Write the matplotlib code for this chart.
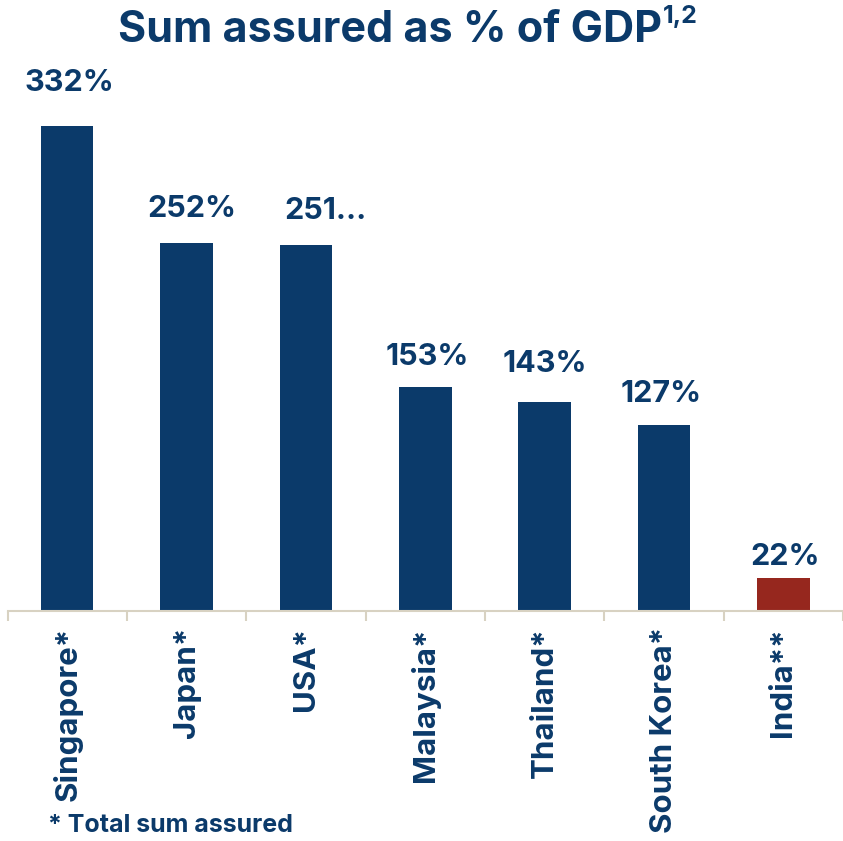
import matplotlib
matplotlib.use('Agg')
import matplotlib.pyplot as plt

countries = ['Singapore*', 'Japan*', 'USA*', 'Malaysia*', 'Thailand*', 'South Korea*', 'India**']
values = [332, 252, 251, 153, 143, 127, 22]
labels = ['332%', '252%', '251...', '153%', '143%', '127%', '22%']

NAVY = '#0b3a6a'
RED = '#96271e'
SPINE = '#d8d2c2'
FONT = 'Inter'

# gap (px) between bar top and label bottom, and sideways nudge
label_gap = [29, 20, 20, 16, 24, 17, 7]
label_dx = [2, 5, 20, 2, 0, -3, 2]


def main():
    fig = plt.figure(figsize=(8.43, 8.41), dpi=100)
    W, H = 843, 841
    ax = fig.add_axes([7.5 / W, (H - 610.5) / H, (W - 7.5) / W, 550.5 / H])

    colors = [RED if c.startswith('India') else NAVY for c in countries]
    x = range(len(countries))
    ax.bar(x, values, width=0.44, color=colors)

    ax.set_xlim(-0.5, len(countries) - 0.5)
    ax.set_ylim(0, 377.6)

    for s in ['top', 'right', 'left']:
        ax.spines[s].set_visible(False)
    ax.spines['bottom'].set_color(SPINE)
    ax.spines['bottom'].set_linewidth(1.5)
    ax.set_yticks([])

    ax.set_xticks([i - 0.5 for i in range(len(countries) + 1)], minor=False)
    ax.set_xticklabels([])
    ax.tick_params(axis='x', which='major', length=7, width=1.5, color=SPINE, direction='out')
    ax.set_xticks(list(x), minor=True)
    ax.set_xticklabels(countries, minor=True, rotation=90, fontsize=22.5,
                       fontweight='bold', color=NAVY, family=FONT)
    ax.tick_params(axis='x', which='minor', length=0, pad=12)

    for i, (v, lab) in enumerate(zip(values, labels)):
        ax.annotate(lab, (i, v), xytext=(label_dx[i] * 0.72, label_gap[i] * 0.72),
                    textcoords='offset points', ha='center', va='bottom',
                    fontsize=22, fontweight='bold', color=NAVY, family=FONT)

    t = fig.text(118 / W, 1 - 41.7 / H, 'Sum assured as % of GDP', ha='left', va='baseline',
                 fontsize=31, fontweight='bold', color=NAVY, family=FONT)
    fig.canvas.draw()
    bb = t.get_window_extent()
    fig.text((bb.x1 + 1) / W, 1 - 23 / H, '1,2', ha='left', va='baseline',
             fontsize=18, fontweight='bold', color=NAVY, family=FONT)

    fig.text(48 / W, 1 - 832 / H, '* Total sum assured', ha='left', va='baseline',
             fontsize=18, fontweight='bold', color=NAVY, family=FONT)

    fig.savefig('out.png', dpi=100)


if __name__ == '__main__':
    main()
